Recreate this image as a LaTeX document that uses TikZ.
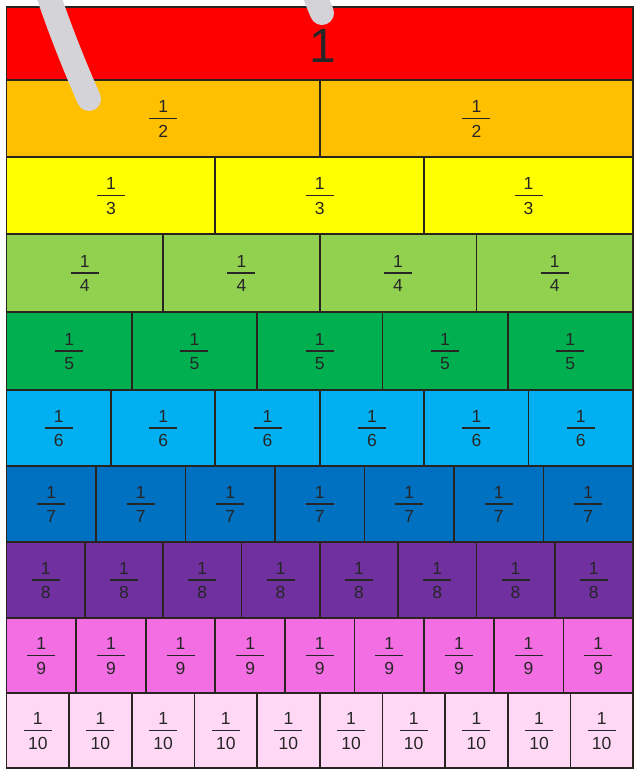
\documentclass[tikz,border=0pt]{standalone}
\usepackage{fontspec}
\setmainfont{Liberation Sans}
\definecolor{rA}{HTML}{FF0000}
\definecolor{rB}{HTML}{FFC000}
\definecolor{rC}{HTML}{FFFF00}
\definecolor{rD}{HTML}{92D050}
\definecolor{rE}{HTML}{00B050}
\definecolor{rF}{HTML}{00B0F0}
\definecolor{rG}{HTML}{0070C0}
\definecolor{rH}{HTML}{7030A0}
\definecolor{rI}{HTML}{F36EE2}
\definecolor{rJ}{HTML}{FFD8F5}
\definecolor{edge}{HTML}{2A2420}
\definecolor{hookgrey}{HTML}{D4D4D8}
\begin{document}
\begin{tikzpicture}[x=1pt,y=-1pt,
  cell/.style={draw=edge, line width=1.7pt},
  num/.style={font=\fontsize{17.5}{17.5}\selectfont, inner sep=0pt, text=black!85},
  bar/.style={draw=black!85, line width=1.5pt},
  hook/.style={draw=hookgrey, line width=24pt, line cap=round}]
\useasboundingbox (0,0) rectangle (634,771);
\def\L{6.5}
\def\R{633}
\foreach \n/\t/\b/\c in {1/7/80/rA, 2/80/157/rB, 3/157/234/rC, 4/234/312/rD, 5/312/390/rE, 6/390/466/rF, 7/466/542/rG, 8/542/618/rH, 9/618/693/rI, 10/693/768/rJ}{
  \pgfmathsetmacro\w{(\R-\L)/\n}
  \foreach \k in {1,...,\n}{
    \pgfmathsetmacro\xa{\L+(\k-1)*\w}
    \pgfmathsetmacro\xb{\L+\k*\w}
    \path[cell, fill=\c] (\xa,\t) rectangle (\xb,\b);
  }
}
\foreach \n/\t/\b in {2/80/157, 3/157/234, 4/234/312, 5/312/390, 6/390/466, 7/466/542, 8/542/618, 9/618/693, 10/693/768}{
  \pgfmathsetmacro\w{(\R-\L)/\n}
  \pgfmathsetmacro\cy{(\t+\b)/2}
  \foreach \k in {1,...,\n}{
    \pgfmathsetmacro\cx{\L+(\k-0.5)*\w}
    \node[num] (n\n-\k) at (\cx,\cy-12) {1};
    \node[num] (d\n-\k) at (\cx,\cy+12.5) {\n};
    \coordinate (bl\n-\k) at (\cx-14,\cy);
    \coordinate (br\n-\k) at (\cx+14,\cy);
    \draw[bar] (bl\n-\k) -- (br\n-\k);
  }
}
\node[font=\fontsize{48}{48}\selectfont, inner sep=0pt, text=black!85] (one) at (323,46) {1};
\draw[hook] (46,-12) .. controls (58,25) and (74,65) .. (89,99);
\draw[hook] (310,-16) -- (322,13);
\end{tikzpicture}
\end{document}
